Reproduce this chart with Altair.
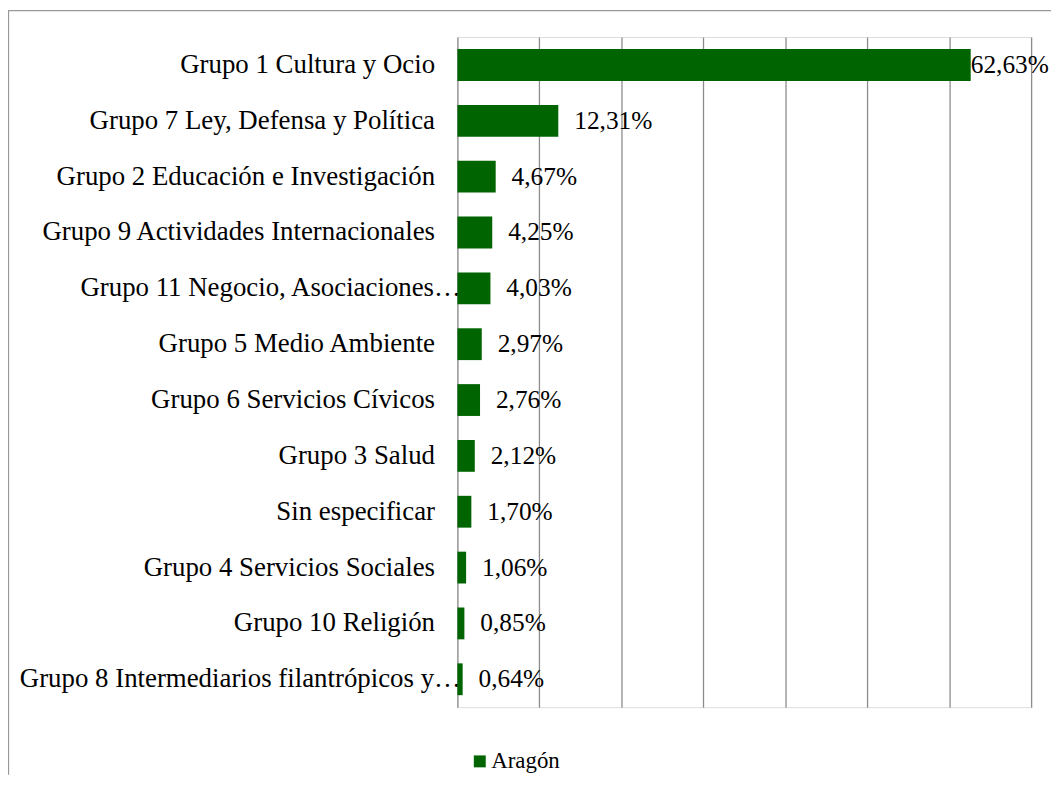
import altair as alt
import pandas as pd

categories = [
    "Grupo 1 Cultura y Ocio",
    "Grupo 7 Ley, Defensa y Política",
    "Grupo 2 Educación e Investigación",
    "Grupo 9 Actividades Internacionales",
    "Grupo 11 Negocio, Asociaciones…",
    "Grupo 5 Medio Ambiente",
    "Grupo 6 Servicios Cívicos",
    "Grupo 3 Salud",
    "Sin especificar",
    "Grupo 4 Servicios Sociales",
    "Grupo 10 Religión",
    "Grupo 8 Intermediarios filantrópicos y…",
]
values = [62.63, 12.31, 4.67, 4.25, 4.03, 2.97, 2.76, 2.12, 1.70, 1.06, 0.85, 0.64]
series_name = "Aragón"
x_ticks = [0, 10, 20, 30, 40, 50, 60, 70]

labels = [f"{v:.2f}".replace(".", ",") + "%" for v in values]
df = pd.DataFrame({"cat": categories, "val": values, "lab": labels, "serie": series_name})

W, H = 577, 674
PAD = {"left": 452, "top": 27, "right": 20, "bottom": 68}
FONT = "'Times New Roman', 'Liberation Serif', serif"
GREEN = "#006400"
GRID = "#8c8c8c"

y_enc = alt.Y("cat:N", sort=categories, title=None,
              scale=alt.Scale(paddingInner=0.43, paddingOuter=0.215),
              axis=alt.Axis(domain=False, ticks=False,
                            labelPadding={"condition": {"test": "indexof(datum.label, '…') >= 0",
                                                        "value": -3},
                                          "value": 23},
                            labelFont=FONT, labelFontSize=27, labelColor="black",
                            labelLimit=600))
x_enc = alt.X("val:Q", title=None, scale=alt.Scale(domain=[0, 70], nice=False),
              axis=alt.Axis(values=x_ticks, labels=False, ticks=False, domain=False,
                            grid=True, gridColor=GRID, gridWidth=1.3, gridOpacity=1))

bars = alt.Chart(df).mark_bar(size=32).encode(
    y=y_enc, x=x_enc,
    color=alt.Color("serie:N", title=None,
                    scale=alt.Scale(domain=[series_name], range=[GREEN]),
                    legend=alt.Legend(orient="none", legendX=11, legendY=717,
                                      symbolType="square", symbolSize=144,
                                      symbolStrokeWidth=0, labelFont=FONT,
                                      labelFontSize=23, labelColor="black",
                                      labelOffset=0, padding=0)),
)

text_small = alt.Chart(df).transform_filter("datum.val < 50").mark_text(
    align="left", baseline="middle", dx=16, font=FONT, fontSize=25.5, color="black"
).encode(y=alt.Y("cat:N", sort=categories), x="val:Q", text="lab:N")

text_big = alt.Chart(df).transform_filter("datum.val >= 50").mark_text(
    align="left", baseline="middle", dx=0, font=FONT, fontSize=25.5, color="black"
).encode(y=alt.Y("cat:N", sort=categories), x="val:Q", text="lab:N")

frame_df = pd.DataFrame({"k": [0]})
frame_left = alt.Chart(frame_df).mark_rule(color="#999999", strokeWidth=1.3).encode(
    x=alt.value(-451.5), y=alt.value(-27), y2=alt.value(H + PAD["bottom"]))
frame_top = alt.Chart(frame_df).mark_rule(color="#999999", strokeWidth=1.3).encode(
    y=alt.value(-26.5), x=alt.value(-452), x2=alt.value(W + PAD["right"]))

chart = alt.layer(bars, text_small, text_big, frame_left, frame_top).properties(
    width=W, height=H, padding=PAD,
    autosize=alt.AutoSizeParams(type="none"),
).configure_view(stroke=None).configure(background="white")

chart.save("out.html", embed_options={"renderer": "svg", "actions": False})
